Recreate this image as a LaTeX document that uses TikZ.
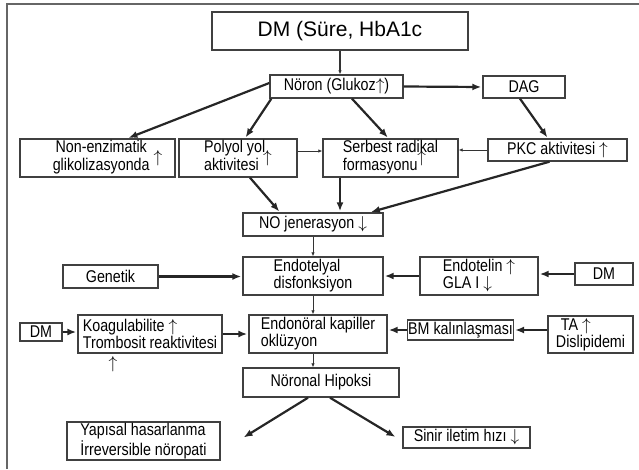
\documentclass[tikz,border=0pt]{standalone}
\usepackage{fontspec}
\setmainfont{Liberation Sans}[FakeStretch=0.84]
\newfontfamily\titlefont{Liberation Sans}
\usetikzlibrary{arrows.meta}

\begin{document}
\begin{tikzpicture}[
    x=1pt, y=-1pt,
    font=\fontsize{17}{17}\selectfont,
    box/.style={draw=black!75, line width=1.4pt, fill=white, inner sep=1.5pt, align=center},
    dims/.style 2 args={minimum width=#1, minimum height=#2},
    thickarrow/.style={-{Latex[length=9pt, width=7pt]}, line width=2.2pt, black!85, shorten >=1pt},
    thinarrow/.style={-{Latex[length=4pt, width=3.5pt]}, line width=0.8pt, black!80},
    frame/.style={draw=black!60, line width=1.2pt}
]
\useasboundingbox (0,0) rectangle (639,469);
\draw[frame] (7,469) |- (639,4);

% ==========================================
% Ust kisim: DM, Noron, DAG
\node[box, dims={256}{38}, font=\titlefont\fontsize{21}{23}\selectfont] (dm) at (340,31) {DM (Süre, HbA1c};
\node[box, dims={133}{23}] (neuron) at (336.5,86.5) {Nöron (Glukoz$\uparrow$)};
\node[box, dims={82}{22}] (dag) at (524,87) {DAG};

% Ikinci sira
\node[box, dims={155}{38}] (nonenz) at (97.5,158)
    {\hspace{20pt}\begin{tabular}{@{}c@{}}Non-enzimatik\\glikolizasyonda\end{tabular}\ $\uparrow$};
\node[box, dims={118}{38}] (polyol) at (238,158)
    {\begin{tabular}{@{}l@{}}Polyol yol\\aktivitesi\end{tabular}\hspace{-2pt}$\uparrow$};
\node[box, dims={135}{38}] (serbest) at (390.5,158)
    {\begin{tabular}{@{}l@{}}Serbest radikal\\formasyonu\end{tabular}\llap{$\uparrow$\hspace{12pt}}};
\node[box, dims={139}{22}] (pkc) at (557.5,150) {PKC aktivitesi $\uparrow$};

% Orta kisim
\node[box, dims={140}{23}] (no) at (313,224.5) {NO jenerasyon $\downarrow$};
\node[box, dims={140}{38}, align=left] (endo) at (313,276) {Endotelyal\\disfonksiyon};
\node[box, dims={95}{23}] (genetik) at (110.5,276.5) {Genetik};
\node[box, dims={118}{38}, align=left] (endotelin) at (479,276) {Endotelin $\uparrow$\\GLA I $\downarrow$};
\node[box, dims={58}{22}] (dmR) at (604,274) {DM};

\node[box, dims={42}{18}] (dmL) at (41,332) {DM};
\node[box, dims={144}{38}, align=left] (koag) at (150,334) {Koagulabilite $\uparrow$\\Trombosit reaktivitesi};
\node[inner sep=0pt] (koagUp) at (113,364) {$\uparrow$};
\node[box, dims={138}{38}, align=left] (endon) at (318,334) {Endonöral kapiller\\oklüzyon};
\node[box, dims={105}{20}, inner sep=0.5pt] (bm) at (460.5,330) {BM kalınlaşması};
\node[box, dims={85}{37}, align=left] (ta) at (590.5,334.5) {\hspace{5pt}TA $\uparrow$\\Dislipidemi};

% Alt kisim
\node[box, dims={156}{29}] (hyp) at (321,382.5) {Nöronal Hipoksi};
\node[box, dims={153}{38}, align=left] (yap) at (143.5,441) {Yapısal hasarlanma\\İrreversible nöropati};
\node[box, dims={127}{21}] (sinir) at (466.5,437.5) {Sinir iletim hızı $\downarrow$};

% ==========================================
% Oklar
\draw[thinarrow, line width=1.2pt] (dm.south) -- (dm.south |- neuron.north);
\draw[thickarrow] (neuron.east) -- (dag.west);
\draw[thickarrow] ([yshift=3.5pt]neuron.west) -- ([xshift=30pt]nonenz.north);
\draw[thickarrow] ([xshift=2pt]neuron.south west) -- ([xshift=7pt]polyol.north);
\draw[thickarrow] ([xshift=15.5pt]neuron.south) -- ([xshift=-2pt]serbest.north);
\draw[thickarrow] ([xshift=-4pt]dag.south) -- ([xshift=-9.5pt]pkc.north);

\draw[thinarrow] ([yshift=7pt]polyol.east) -- ([yshift=7pt]polyol.east -| serbest.west);
\draw[thinarrow] (pkc.west) -- (pkc.west -| serbest.east);

\draw[thickarrow] ([xshift=12pt]polyol.south) -- ([xshift=-33pt]no.north);
\draw[thickarrow] ([xshift=-50.5pt]serbest.south) -- ([xshift=-50.5pt]serbest.south |- no.north);
\draw[thickarrow] ([xshift=-8pt]pkc.south) -- ([xshift=57pt]no.north);

\draw[thinarrow] (no.south) -- (endo.north);
\draw[thickarrow] (genetik.east) -- (genetik.east -| endo.west);
\draw[thickarrow] (endotelin.west) -- (endo.east);
\draw[thickarrow] (dmR.west) -- (dmR.west -| endotelin.east);

\draw[thinarrow] (endo.south) -- (endo.south |- endon.north);
\draw[thickarrow] (dmL.east) -- (dmL.east -| koag.west);
\draw[thickarrow] (koag.east) -- (endon.west);
\draw[thickarrow] (bm.west) -- (bm.west -| endon.east);
\draw[thickarrow] (bm.east -| ta.west) -- (bm.east);

\draw[thinarrow] ([xshift=-5pt]endon.south) -- ([xshift=-5pt]endon.south |- hyp.north);
\draw[thickarrow] ([xshift=-13pt]hyp.south) -- ([xshift=22pt, yshift=3pt]yap.east);
\draw[thickarrow] ([xshift=9pt]hyp.south) -- ([xshift=-6pt]sinir.west);

\end{tikzpicture}
\end{document}
